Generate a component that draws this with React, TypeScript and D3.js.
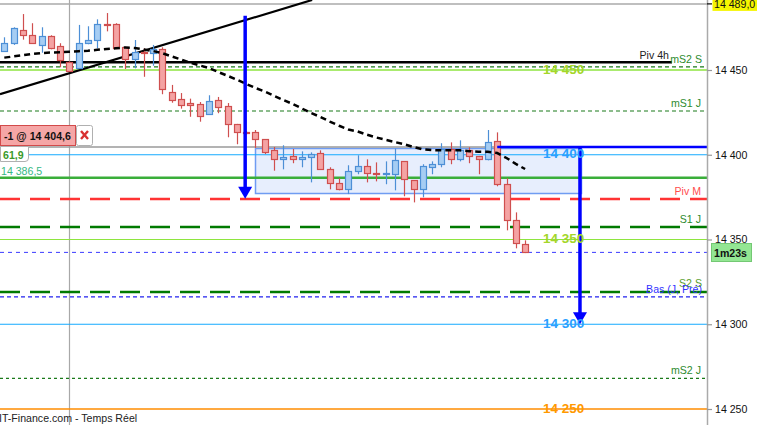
import React, { useEffect, useRef } from "react";
import * as d3 from "d3";

const W = 757;
const H = 425;

// ---- candle data (prices) ----
const openP = [14461.4, 14465.8, 14473.4, 14470.5, 14464.6, 14469.9, 14464.0, 14454.9, 14451.0, 14465.8, 14467.5, 14477.0, 14477.0, 14463.4, 14456.3, 14460.4, 14459.9, 14462.2, 14437.0, 14432.7, 14430.4, 14429.8, 14423.9, 14432.1, 14428.6, 14418.0, 14413.4, 14413.2, 14409.1, 14402.6, 14397.3, 14399.1, 14397.3, 14398.5, 14400.9, 14391.4, 14383.2, 14379.6, 14390.2, 14393.2, 14389.1, 14388.5, 14388.5, 14396.1, 14384.9, 14379.6, 14392.6, 14394.4, 14403.2, 14397.3, 14402.6, 14399.1, 14397.3, 14407.9, 14382.6, 14361.3, 14347.2];
const highP = [14469.3, 14475.2, 14483.0, 14477.6, 14475.2, 14470.5, 14465.8, 14455.2, 14476.6, 14475.8, 14479.9, 14483.6, 14477.6, 14463.7, 14467.7, 14462.8, 14464.8, 14463.4, 14441.2, 14436.4, 14433.1, 14431.1, 14435.1, 14434.1, 14430.5, 14418.2, 14414.0, 14414.6, 14409.3, 14404.6, 14405.6, 14403.4, 14402.0, 14401.4, 14402.6, 14392.6, 14386.1, 14393.8, 14399.7, 14397.3, 14395.5, 14396.1, 14403.7, 14396.3, 14385.1, 14394.4, 14396.1, 14406.8, 14407.3, 14408.5, 14404.4, 14399.3, 14414.6, 14413.2, 14386.1, 14366.0, 14349.5];
const lowP = [14461.2, 14464.8, 14467.9, 14465.8, 14460.2, 14462.2, 14451.6, 14449.0, 14450.6, 14465.2, 14462.8, 14472.8, 14462.7, 14450.6, 14451.0, 14446.0, 14452.5, 14435.7, 14430.7, 14427.2, 14422.4, 14419.5, 14423.5, 14424.5, 14410.3, 14406.2, 14412.0, 14404.0, 14400.4, 14390.6, 14391.4, 14395.0, 14392.6, 14383.7, 14391.4, 14379.6, 14379.0, 14376.8, 14388.5, 14383.7, 14384.3, 14382.6, 14379.0, 14375.5, 14371.9, 14374.9, 14388.5, 14392.6, 14394.4, 14396.1, 14395.0, 14388.5, 14396.7, 14381.4, 14355.4, 14344.8, 14342.0];
const closeP = [14465.8, 14474.6, 14470.5, 14465.8, 14469.9, 14463.2, 14455.9, 14449.6, 14465.8, 14467.5, 14477.0, 14476.6, 14463.2, 14456.5, 14460.8, 14459.9, 14462.4, 14438.6, 14432.1, 14429.2, 14429.2, 14423.0, 14431.5, 14428.0, 14418.0, 14413.4, 14412.9, 14409.1, 14401.8, 14397.3, 14398.5, 14397.3, 14398.5, 14400.6, 14391.4, 14383.2, 14379.6, 14390.2, 14393.2, 14389.1, 14388.5, 14389.1, 14396.7, 14385.5, 14379.6, 14393.2, 14394.4, 14403.2, 14397.3, 14402.6, 14399.1, 14397.3, 14407.3, 14382.6, 14361.3, 14347.8, 14342.4];
// moving average (dashed black)
const maP = [14457.3, 14458.0, 14458.7, 14459.4, 14460.0, 14460.3, 14460.5, 14460.8, 14461.1, 14461.4, 14461.9, 14462.4, 14462.8, 14463.3, 14463.0, 14462.1, 14461.2, 14459.9, 14458.0, 14456.2, 14454.3, 14452.7, 14451.2, 14448.8, 14446.6, 14444.3, 14441.8, 14439.4, 14437.3, 14434.8, 14432.3, 14430.0, 14427.3, 14424.6, 14422.3, 14419.6, 14417.1, 14414.9, 14413.7, 14411.8, 14410.2, 14408.8, 14407.5, 14406.2, 14404.6, 14403.2, 14402.7, 14402.6, 14402.6, 14402.6, 14402.1, 14401.8, 14401.7, 14401.0, 14398.1, 14394.6, 14391.6];

// ---- axis ----
const axisTicks = [14250, 14300, 14350, 14400, 14450];
const axisTickLabels = ["14 250", "14 300", "14 350", "14 400", "14 450"];

// ---- round-number levels drawn with big labels ----
const roundLevels = [14450, 14400, 14350, 14300, 14250];
const roundLabels = ["14 450", "14 400", "14 350", "14 300", "14 250"];

// ---- named pivot levels ----
const levelNames = ["Piv 4h", "mS2 S", "mS1 J", "Piv M", "S1 J", "S2 S", "Bas (J, Pré)", "mS2 J"];
const levelValues = [14454.5, 14451.8, 14425.8, 14373.9, 14357.4, 14319.0, 14316.1, 14268.1];

// ---- other annotations ----
const highPrice = 14489.0;
const highLabel = "14 489,0";
const orderPrice = 14404.6;
const orderLabel = "-1 @ 14 404,6";
const orderStartIdx = 53;
const lastPrice = 14342.4;
const timerLabel = "1m23s";
const supportPrice = 14386.5;
const supportLabel = "14 386,5";
const oscLabel = "61,9";
const trendIdx = [-0.46, 33.1];
const trendPrice = [14435.7, 14491.3];
const arrowIdx = [25.9, 61.9];
const arrowFrom = [14482.0, 14404.6];
const arrowTo = [14374.0, 14300.0];
const boxIdx = [27, 62];
const boxPrice = [14377.0, 14403.8];
const vLineIdx = 7.0;
const footer = "IT-Finance.com - Temps Réel";

// ---- styles ----
const FONT = "'Liberation Sans', Arial, sans-serif";
const AXIS_X = 707;
const roundStyle: Record<string, { line: string; text: string; w: number }> = {
  "14 450": { line: "#8ee53f", text: "#a4d62a", w: 1.6 },
  "14 400": { line: "#14aaff", text: "#2aa0ff", w: 1.2 },
  "14 350": { line: "#8ee53f", text: "#a4d62a", w: 1.2 },
  "14 300": { line: "#14aaff", text: "#2aa0ff", w: 1.2 },
  "14 250": { line: "#ff8c00", text: "#ff9900", w: 1.4 },
};
const levelStyle: Record<string, { color: string; text: string; w: number; dash: string; end: number; labelEnd: number }> = {
  "Piv 4h": { color: "#000000", text: "#222", w: 2.5, dash: "", end: 672, labelEnd: 669 },
  "mS2 S": { color: "#1a7a1a", text: "#2e8b2e", w: 1.2, dash: "4,3", end: AXIS_X, labelEnd: 702 },
  "mS1 J": { color: "#1a7a1a", text: "#2e8b2e", w: 1.2, dash: "4,3", end: AXIS_X, labelEnd: 701 },
  "Piv M": { color: "#ff3333", text: "#ff4d4d", w: 2.5, dash: "20,10", end: AXIS_X, labelEnd: 701 },
  "S1 J": { color: "#007a00", text: "#2e8b2e", w: 2.5, dash: "20,10", end: AXIS_X, labelEnd: 701 },
  "S2 S": { color: "#007a00", text: "#5aa02e", w: 2.5, dash: "20,10", end: AXIS_X, labelEnd: 702 },
  "Bas (J, Pré)": { color: "#2222ee", text: "#3333ff", w: 1.2, dash: "4,3", end: AXIS_X, labelEnd: 702 },
  "mS2 J": { color: "#1a7a1a", text: "#2e8b2e", w: 1.2, dash: "3,3", end: AXIS_X, labelEnd: 701 },
};
const labelDy: Record<string, number> = {
  "Piv 4h": -3, "mS2 S": -4, "mS1 J": -4, "Piv M": -4, "S1 J": -4, "S2 S": -5, "Bas (J, Pré)": -4, "mS2 J": -4,
};

export default function App() {
  const axisRef = useRef<SVGGElement>(null);

  const x = d3.scaleLinear().domain([0, 56]).range([4.3, 525.1]);
  const y = d3.scaleLinear().domain([14250, 14450]).range([409, 70]);

  useEffect(() => {
    if (!axisRef.current) return;
    const g = d3.select(axisRef.current);
    g.selectAll("*").remove();
    const axis = d3
      .axisRight(y)
      .tickValues(axisTicks)
      .tickFormat((_d, i) => axisTickLabels[i])
      .tickSize(5)
      .tickPadding(3);
    g.call(axis as any);
    g.select(".domain").remove();
    g.selectAll(".tick line").attr("stroke", "#999").attr("stroke-width", 1.2);
    g.selectAll(".tick text")
      .attr("fill", "#111")
      .style("font-family", FONT)
      .style("font-size", "10.6px");
  }, []);

  const ma = d3
    .line<number>()
    .x((_d, i) => x(i))
    .y((d) => y(d))(maP);

  const px = (v: number) => Math.round(v) + 0.5;

  return (
    <svg
      width={W}
      height={H}
      style={{ position: "absolute", left: 0, top: 0, background: "#fff" }}
      fontFamily={FONT}
    >
      <defs>
        <clipPath id="plot">
          <rect x={0} y={0} width={AXIS_X} height={H} />
        </clipPath>
      </defs>
      <rect x={0} y={0} width={W} height={H} fill="#fff" />

      <g clipPath="url(#plot)">
        {/* light blue zone */}
        <rect
          x={px(x(boxIdx[0]))}
          y={px(y(boxPrice[1]))}
          width={Math.round(x(boxIdx[1]) - x(boxIdx[0]))}
          height={Math.round(y(boxPrice[0]) - y(boxPrice[1]))}
          fill="#dfe8fc"
          fillOpacity={0.75}
          stroke="#6f9cf2"
          strokeWidth={1.5}
        />

        {/* vertical grid line */}
        <line x1={px(x(vLineIdx))} x2={px(x(vLineIdx))} y1={0} y2={H} stroke="#a8a8a8" strokeWidth={1.2} />

        {/* high line */}
        <line x1={0} x2={AXIS_X} y1={y(highPrice)} y2={y(highPrice)} stroke="#aaaaaa" strokeWidth={1.5} />

        {/* round levels */}
        {roundLevels.map((v, i) => {
          const s = roundStyle[roundLabels[i]];
          return (
            <line key={"r" + i} x1={0} x2={AXIS_X} y1={y(v)} y2={y(v)} stroke={s.line} strokeWidth={s.w} />
          );
        })}

        {/* support green level */}
        <line x1={0} x2={AXIS_X} y1={y(supportPrice)} y2={y(supportPrice)} stroke="#3aae3a" strokeWidth={2.5} />

        {/* pivot levels */}
        {levelNames.map((n, i) => {
          const s = levelStyle[n];
          return (
            <line
              key={"l" + i}
              x1={0}
              x2={s.end}
              y1={y(levelValues[i])}
              y2={y(levelValues[i])}
              stroke={s.color}
              strokeWidth={s.w}
              strokeDasharray={s.dash || undefined}
            />
          );
        })}

        {/* order line (gray) */}
        <line x1={0} x2={AXIS_X} y1={y(orderPrice)} y2={y(orderPrice)} stroke="#9a9a9a" strokeWidth={1.5} />

        {/* last price line */}
        <line
          x1={0}
          x2={AXIS_X}
          y1={y(lastPrice)}
          y2={y(lastPrice)}
          stroke="#3a3aff"
          strokeWidth={1}
          strokeDasharray="4,4"
        />

        {/* pivot labels */}
        {levelNames.map((n, i) => {
          const s = levelStyle[n];
          return (
            <text
              key={"lt" + i}
              x={s.labelEnd}
              y={y(levelValues[i]) + labelDy[n]}
              textAnchor="end"
              fontSize={10.6}
              fill={s.text}
            >
              {n}
            </text>
          );
        })}

        {/* trend line */}
        <line
          x1={x(trendIdx[0])}
          y1={y(trendPrice[0])}
          x2={x(trendIdx[1])}
          y2={y(trendPrice[1])}
          stroke="#000"
          strokeWidth={2.2}
        />

        {/* candles */}
        {openP.map((o, i) => {
          const c = closeP[i];
          const up = c >= o;
          const cx = px(x(i));
          const top = Math.round(y(Math.max(o, c)));
          const bot = Math.round(y(Math.min(o, c)));
          const stroke = up ? "#4d8fd6" : "#cf4f4f";
          const fill = up ? "#a6cdf3" : "#f4a3a3";
          return (
            <g key={"c" + i}>
              <line x1={cx} x2={cx} y1={y(highP[i])} y2={y(lowP[i])} stroke={stroke} strokeWidth={1.2} />
              <rect
                x={cx - 3}
                y={top + 0.5}
                width={6}
                height={Math.max(1, bot - top)}
                fill={fill}
                stroke={stroke}
                strokeWidth={1.2}
              />
            </g>
          );
        })}

        {/* moving average */}
        <path d={ma || ""} fill="none" stroke="#000" strokeWidth={2.5} strokeDasharray="6,4" />

        {/* blue order line */}
        <line
          x1={x(orderStartIdx)}
          x2={AXIS_X}
          y1={y(orderPrice)}
          y2={y(orderPrice)}
          stroke="#0000ff"
          strokeWidth={2.5}
        />

        {/* arrows */}
        {arrowIdx.map((ai, i) => {
          const ax = x(ai);
          const y0 = y(arrowFrom[i]);
          const y1 = y(arrowTo[i]);
          const hh = 12;
          const hw = 7;
          return (
            <g key={"a" + i}>
              <line x1={ax} x2={ax} y1={y0} y2={y1 - hh + 1} stroke="#0000ff" strokeWidth={3.5} />
              <path
                d={`M${ax - hw},${y1 - hh} L${ax + hw},${y1 - hh} L${ax},${y1} Z`}
                fill="#0000ff"
              />
            </g>
          );
        })}

        {/* big round labels */}
        {roundLevels.map((v, i) => {
          const s = roundStyle[roundLabels[i]];
          return (
            <text
              key={"rt" + i}
              x={543}
              y={y(v) + 3.5}
              fontSize={13.5}
              fontWeight="bold"
              fill={s.text}
            >
              {roundLabels[i]}
            </text>
          );
        })}

        {/* support label */}
        <text x={1} y={y(supportPrice) - 3} fontSize={10.6} fill="#35b883">
          {supportLabel}
        </text>

        {/* order badge */}
        <rect x={0.5} y={125.5} width={75} height={20} fill="#f5a6a6" stroke="#d24a4a" strokeWidth={1} />
        <text x={4} y={139.5} fontSize={10.6} fontWeight="bold" fill="#111">
          {orderLabel}
        </text>
        <rect x={76.5} y={125.5} width={16} height={20} rx={2} fill="#fff" stroke="#b0b0b0" strokeWidth={1} />
        <line x1={81} y1={131} x2={88} y2={139} stroke="#d83030" strokeWidth={2.4} />
        <line x1={88} y1={131} x2={81} y2={139} stroke="#d83030" strokeWidth={2.4} />

        {/* oscillator badge */}
        <path d="M0.5,146.5 H28.5 V158 Q28.5,161.5 25,161.5 H0.5 Z" fill="#fff" stroke="#b0b0b0" strokeWidth={1} />
        <text x={3} y={158.5} fontSize={10.6} fontWeight="bold" fill="#3a9a2a">
          {oscLabel}
        </text>

        {/* footer */}
        <text x={-1} y={421.5} fontSize={10.6} fill="#222">
          {footer}
        </text>
      </g>

      {/* right axis */}
      <line x1={AXIS_X + 0.5} x2={AXIS_X + 0.5} y1={0} y2={H} stroke="#aaaaaa" strokeWidth={1.5} />
      <g ref={axisRef} transform={`translate(${AXIS_X},0)`} />

      {/* high price label */}
      <line x1={AXIS_X} x2={AXIS_X + 5} y1={y(highPrice)} y2={y(highPrice)} stroke="#000" strokeWidth={1.2} />
      <rect x={712.5} y={y(highPrice) - 7} width={46} height={14} fill="#f5f500" />
      <text x={714} y={y(highPrice) + 4} fontSize={10.6} fill="#111">
        {highLabel}
      </text>

      {/* timer badge */}
      <rect x={711.5} y={243.5} width={40} height={18} fill="#93e693" stroke="#74c874" strokeWidth={1} />
      <text x={714} y={257} fontSize={10.6} fontWeight="bold" fill="#111">
        {timerLabel}
      </text>
    </svg>
  );
}
